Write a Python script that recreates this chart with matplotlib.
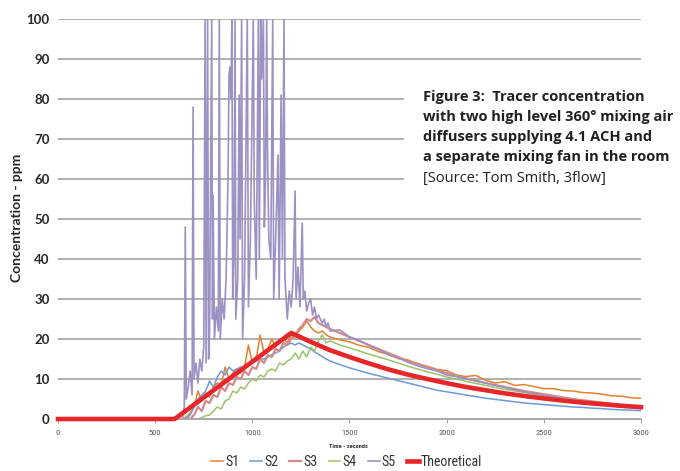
import matplotlib
matplotlib.use("Agg")
import matplotlib.pyplot as plt
from matplotlib import font_manager as fm
from matplotlib.patches import Rectangle

# sample times for S1-S4: 0, then 600-1400 every 20 s, then 1450-3000 every 50 s
t_grid = [0] + list(range(600, 1401, 20)) + list(range(1450, 3001, 50))

s1 = [0,
      0, 0, 0, 0.5, 1.5, 3, 7, 4.5, 6.5, 5.5, 8, 9, 8.5, 13, 10, 11.5, 12.5, 11.5, 13, 18.5,
      14, 15, 21, 16.5, 17.5, 20, 18, 19.5, 20, 19, 21, 20.5, 22, 23, 24.5, 23, 22, 21.5, 22, 21, 20.5,
      19.8, 19.3, 18.4, 17.9, 16.8, 16.2, 15.1, 14.8, 13.8, 13.2, 12.4, 12.1, 11.0, 10.6, 10.9, 9.7,
      9.0, 9.3, 8.4, 8.6, 8.1, 7.6, 7.6, 7.1, 7.0, 6.6, 6.5, 6.2, 5.8, 5.7, 5.3, 5.2]
s2 = [0,
      0, 0, 0, 0, 1, 3, 5, 6, 7, 9.5, 8, 10.5, 12, 11, 13, 12, 12.5, 13, 12.5, 13.5,
      14, 14.5, 15, 15, 15.5, 16, 16.5, 17, 18, 18.5, 19, 18.5, 19, 18.5, 18, 17.5, 16.8, 16.2, 15.6, 15, 14.5,
      13.6, 12.8, 12.1, 11.4, 10.8, 10.2, 9.6, 9.0, 8.4, 7.8, 7.2, 6.8, 6.4, 6.0, 5.6, 5.2,
      4.9, 4.6, 4.3, 4.0, 3.8, 3.6, 3.4, 3.2, 3.0, 2.9, 2.7, 2.6, 2.4, 2.3, 2.2, 2.1]
s3 = [0,
      0, 0, 0, 0, 0, 1, 3, 2, 4.5, 4, 6, 5.5, 8, 7, 9, 8.5, 10.5, 10, 12, 11,
      13, 12.5, 15, 14, 16, 15.5, 17.5, 17, 19, 18.5, 20, 21, 22.5, 23.5, 25, 24.5, 25.5, 24, 23.5, 23, 22.5,
      21.5, 20.5, 19.5, 18.5, 17.5, 16.5, 15.5, 14.5, 13.8, 13.0, 12.2, 11.5, 10.8, 10.2, 9.6, 9.0,
      8.5, 8.0, 7.5, 7.0, 6.6, 6.2, 5.8, 5.4, 5.0, 4.7, 4.4, 4.1, 3.8, 3.5, 3.3, 3.1]
s4 = [0,
      0, 0, 0, 0, 0, 0, 0, 0.3, 0.8, 1, 2, 3, 2.5, 4.5, 5, 7, 6.5, 8, 7.5, 9,
      10, 9.5, 11, 10.5, 12, 12.5, 12, 14, 13.5, 14.5, 15, 16.5, 15, 17, 15.5, 18, 17, 19.5, 21, 19, 19.5,
      18.5, 17.8, 17.0, 16.2, 15.5, 14.8, 14.0, 13.2, 12.5, 11.8, 11.2, 10.5, 10.0, 9.4, 8.9, 8.4,
      7.9, 7.4, 7.0, 6.6, 6.2, 5.8, 5.4, 5.1, 4.8, 4.5, 4.2, 3.9, 3.6, 3.3, 3.1, 2.9]

# S5 has its own times because of the spikes (values over 100 are shown at the top of the axis)
t_s5 = [0, 600, 640, 650, 655, 660, 670, 680, 690, 695, 700, 710, 720, 730, 740, 750, 757, 762, 770, 775,
        780, 791, 795, 798, 805, 815, 825, 830, 835, 845, 855, 865, 875, 880, 885, 890, 895, 899, 905, 911,
        915, 925, 932, 937, 945, 950, 960, 974, 980, 990, 1005, 1010, 1020, 1031, 1036, 1043, 1048, 1057,
        1062, 1068, 1074, 1078, 1085, 1095, 1105, 1110, 1120, 1132, 1138, 1148, 1155, 1163, 1168, 1180,
        1190, 1200, 1210, 1220, 1225, 1235, 1245, 1257, 1262, 1270, 1280, 1290, 1300, 1310, 1320, 1330,
        1340, 1350, 1360, 1370, 1380, 1390, 1400, 1450, 1500, 1550, 1600, 1650, 1700, 1750, 1800, 1850,
        1900, 1950, 2000, 2050, 2100, 2150, 2200, 2250, 2300, 2350, 2400, 2450, 2500, 2550, 2600, 2650,
        2700, 2750, 2800, 2850, 2900, 2950, 3000]
s5 = [0, 0, 0, 3, 48, 5, 8, 12, 6, 78, 10, 14, 9, 15, 12, 18, 100, 14, 100, 15,
      22, 100, 25, 56, 20, 28, 22, 100, 20, 30, 25, 35, 60, 86, 88, 80, 100, 30, 40, 100,
      25, 35, 81, 45, 100, 20, 35, 100, 28, 45, 100, 55, 35, 100, 40, 100, 85, 100,
      48, 60, 100, 68, 45, 40, 100, 30, 45, 66, 30, 81, 40, 100, 35, 25,
      32, 28, 35, 57, 30, 38, 28, 49, 30, 32, 27, 29, 30, 26, 28, 25,
      26, 25, 24, 25, 23, 24, 22, 22.3, 20.5, 19.6, 18.4, 17.3, 16.0, 15.3, 14.2, 13.3,
      12.6, 12.0, 11.0, 10.6, 10.0, 9.5, 9.0, 8.4, 7.9, 7.3, 6.8, 6.4, 5.9, 5.5, 5.1, 4.7,
      4.3, 4.0, 3.7, 3.3, 3.0, 2.8, 2.6]

t_theory = [0, 600, 1200, 1300, 1400, 1500, 1600, 1700, 1800, 1900, 2000, 2100, 2200, 2300, 2400,
            2500, 2600, 2700, 2800, 2900, 3000]
c_theory = [0, 0, 21.5, 19.3, 17.2, 15.5, 13.9, 12.4, 11.1, 10.0, 8.95, 8.0, 7.2, 6.4, 5.75,
            5.15, 4.6, 4.1, 3.7, 3.3, 2.97]

series = [("S1", s1, "#e5822f", 1.1), ("S2", s2, "#6a9bd8", 1.1),
          ("S3", s3, "#d48a8a", 1.6), ("S4", s4, "#9bc36a", 1.1)]

names = {f.name for f in fm.fontManager.ttflist}
narrow = next((n for n in ["Liberation Sans Narrow", "Roboto Condensed", "Open Sans Condensed"] if n in names),
              "Liberation Sans")
plt.rcParams["font.family"] = [narrow, "DejaVu Sans"]
wide = ["Lato", "DejaVu Sans"]
cap_font = ["Open Sans", "DejaVu Sans"]

fig = plt.figure(figsize=(6.8, 4.71), dpi=100)
ax = fig.add_axes([0.0853, 0.1104, 0.8573, 0.8493])

for name, vals, col, lw in series:
    ax.plot(t_grid, vals, color=col, lw=lw, label=name)
ax.plot(t_s5, s5, color="#9d90c2", lw=1.2, label="S5")
ax.plot(t_theory, c_theory, color="#e8262a", lw=3.3, label="Theoretical", clip_on=False, zorder=5)

ax.set_xlim(0, 3000)
ax.set_ylim(0, 100)
ax.set_xticks(range(0, 3001, 500))
ax.set_yticks(range(0, 101, 10))
ax.yaxis.grid(True, color="#b0b0b0", lw=1.4)
ax.set_axisbelow(True)
for s in ["top", "right", "left"]:
    ax.spines[s].set_visible(False)
ax.spines["bottom"].set_color("#a8a8a8")
ax.spines["bottom"].set_linewidth(1.4)
ax.tick_params(axis="y", length=0, pad=6)
ax.tick_params(axis="x", length=3, color="#a8a8a8", pad=5, labelsize=6, labelcolor="#555555")
for lbl in ax.get_yticklabels():
    lbl.set_fontfamily(wide)
    lbl.set_fontweight("bold")
    lbl.set_fontsize(9.5)
    lbl.set_color("#262626")

fig.text(0.025, 0.537, "Concentration - ppm", rotation=90, ha="center", va="center",
         fontsize=10, fontweight="bold", color="#262626", family=wide)
fig.text(0.513, 0.053, "Time - seconds", ha="center", va="center", fontsize=4.5,
         fontweight="bold", color="#333333")

fig.legend(loc="center", bbox_to_anchor=(0.51, 0.019), ncol=6, frameon=False, fontsize=10,
           handlelength=0.85, handletextpad=0.15, columnspacing=0.8, labelcolor="#333333")

# white panel behind the caption
fig.add_artist(Rectangle((0.594, 0.597), 0.406, 0.216, transform=fig.transFigure,
                         facecolor="white", edgecolor="none", zorder=3))
caption = ["Figure 3:  Tracer concentration",
           "with two high level 360° mixing air",
           "diffusers supplying 4.1 ACH and",
           "a separate mixing fan in the room"]
ys = [0.794, 0.752, 0.709, 0.667]
for line, y in zip(caption, ys):
    fig.text(0.622, y, line, ha="left", va="center", fontsize=10.5, fontweight="bold",
             color="#231f20", zorder=4, family=cap_font)
fig.text(0.622, 0.622, "[Source: Tom Smith, 3flow]", ha="left", va="center", fontsize=10.5,
         color="#231f20", zorder=4, family=cap_font)

fig.savefig("out.png", dpi=100)
